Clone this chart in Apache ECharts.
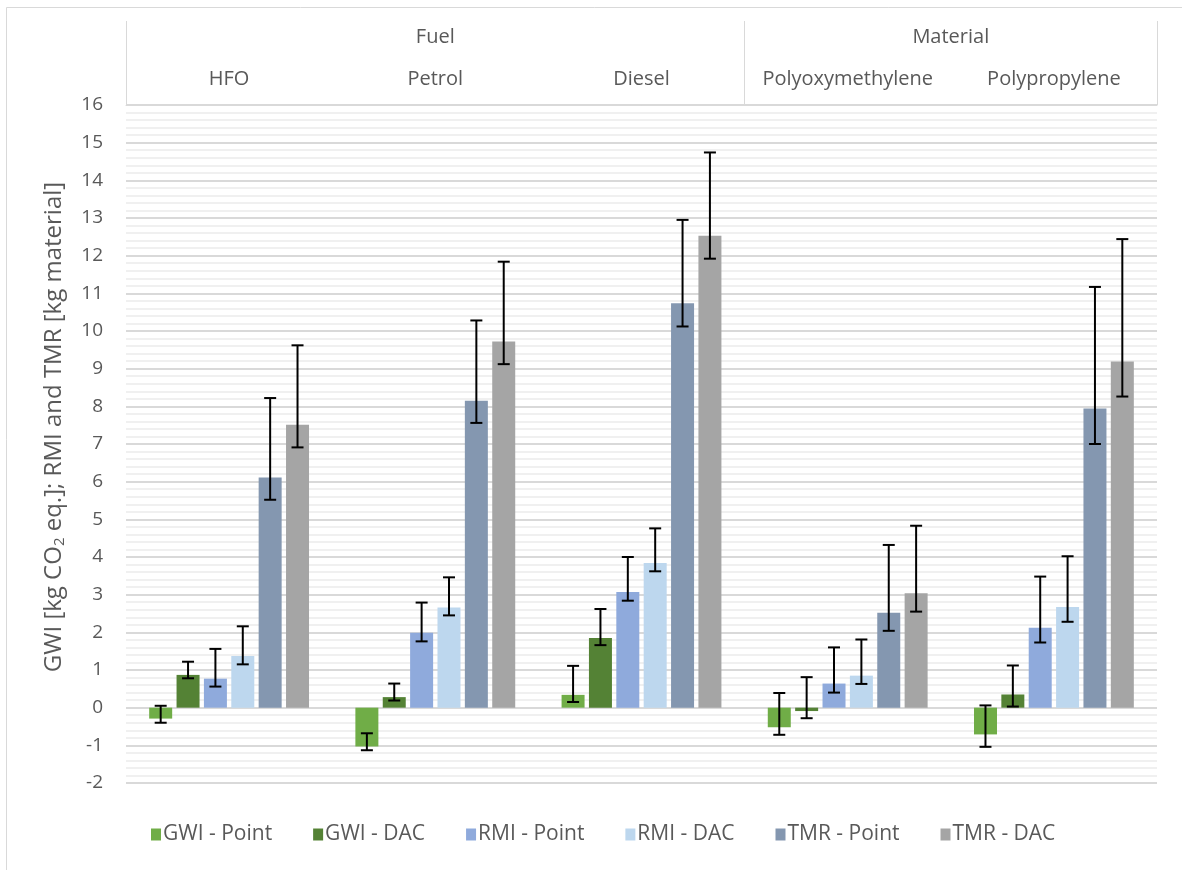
<!DOCTYPE html>
<html>
<head>
<meta charset="utf-8">
<script src="https://cdn.jsdelivr.net/npm/echarts@6/dist/echarts.min.js"></script>
<style>
html,body{margin:0;padding:0;background:#fff;}
#chart{width:1182px;height:870px;}
</style>
</head>
<body>
<div id="chart"></div>
<script>
// ---- DATA ----
const categories = ['HFO', 'Petrol', 'Diesel', 'Polyoxymethylene', 'Polypropylene'];
const groupNames = ['Fuel', 'Material'];
const groupSpans = [3, 2]; // number of categories in each group
const seriesNames = ['GWI - Point', 'GWI - DAC', 'RMI - Point', 'RMI - DAC', 'TMR - Point', 'TMR - DAC'];
const seriesColors = ['#70AD47', '#548235', '#8FAADC', '#BDD7EE', '#8497B0', '#A5A5A5'];

const gwiPoint = [-0.29, -1.03, 0.34, -0.52, -0.71];
const gwiDac   = [0.87, 0.28, 1.85, -0.09, 0.35];
const rmiPoint = [0.77, 1.99, 3.07, 0.64, 2.12];
const rmiDac   = [1.37, 2.66, 3.84, 0.85, 2.67];
const tmrPoint = [6.11, 8.15, 10.74, 2.52, 7.94];
const tmrDac   = [7.51, 9.72, 12.53, 3.04, 9.19];

// error bar ends (low, high)
const gwiPointLow  = [-0.40, -1.13, 0.15, -0.72, -1.04];
const gwiPointHigh = [0.05, -0.68, 1.11, 0.39, 0.06];
const gwiDacLow    = [0.78, 0.19, 1.66, -0.28, 0.03];
const gwiDacHigh   = [1.22, 0.64, 2.62, 0.81, 1.12];
const rmiPointLow  = [0.56, 1.76, 2.84, 0.40, 1.73];
const rmiPointHigh = [1.56, 2.79, 4.00, 1.60, 3.48];
const rmiDacLow    = [1.15, 2.45, 3.62, 0.63, 2.28];
const rmiDacHigh   = [2.16, 3.46, 4.76, 1.81, 4.02];
const tmrPointLow  = [5.52, 7.56, 10.12, 2.04, 7.00];
const tmrPointHigh = [8.22, 10.28, 12.95, 4.32, 11.17];
const tmrDacLow    = [6.91, 9.12, 11.92, 2.55, 8.26];
const tmrDacHigh   = [9.62, 11.84, 14.74, 4.83, 12.44];

const yMin = -2, yMax = 16, yInterval = 1;
const yAxisTitle = ['GWI [kg CO', '2', ' eq.]; RMI and TMR [kg material]'];

// ---- BUILD ----
const values = [gwiPoint, gwiDac, rmiPoint, rmiDac, tmrPoint, tmrDac];
const lows = [gwiPointLow, gwiDacLow, rmiPointLow, rmiDacLow, tmrPointLow, tmrDacLow];
const highs = [gwiPointHigh, gwiDacHigh, rmiPointHigh, rmiDacHigh, tmrPointHigh, tmrDacHigh];

const BAR_W = 23;
const GAP_RATIO = 0.19;
const STEP = BAR_W * (1 + GAP_RATIO);
const nSeries = seriesNames.length;

const font = 'Open Sans';
const textColor = '#595959';

const groupCenters = [];
const groupEdges = [0];
let acc = 0;
groupSpans.forEach(s => { groupCenters.push(acc + s / 2); acc += s; groupEdges.push(acc); });

const series = [];
seriesNames.forEach((name, i) => {
  series.push({
    name: name,
    type: 'bar',
    xAxisIndex: 0,
    yAxisIndex: 0,
    barWidth: BAR_W,
    barGap: (GAP_RATIO * 100) + '%',
    itemStyle: { color: seriesColors[i] },
    data: values[i],
    z: 2
  });
});
seriesNames.forEach((name, i) => {
  series.push({
    type: 'custom',
    name: name + ' err',
    xAxisIndex: 0,
    yAxisIndex: 0,
    z: 5,
    silent: true,
    data: categories.map((c, k) => [k, lows[i][k], highs[i][k]]),
    renderItem: function (params, api) {
      const k = api.value(0);
      const pLow = api.coord([k, api.value(1)]);
      const pHigh = api.coord([k, api.value(2)]);
      const x = pLow[0] + (i - (nSeries - 1) / 2) * STEP;
      const cap = 6;
      const style = { stroke: '#000', lineWidth: 2 };
      return {
        type: 'group',
        children: [
          { type: 'line', shape: { x1: x, y1: pLow[1], x2: x, y2: pHigh[1] }, style: style },
          { type: 'line', shape: { x1: x - cap, y1: pLow[1], x2: x + cap, y2: pLow[1] }, style: style },
          { type: 'line', shape: { x1: x - cap, y1: pHigh[1], x2: x + cap, y2: pHigh[1] }, style: style }
        ]
      };
    }
  });
});

const chart = echarts.init(document.getElementById('chart'), null, { renderer: 'canvas' });
chart.setOption({
  backgroundColor: '#fff',
  animation: false,
  textStyle: { fontFamily: font },
  graphic: [
    {
      type: 'rect',
      shape: { x: 6.5, y: 7.5, width: 1200, height: 900 },
      style: { fill: 'none', stroke: '#d9d9d9', lineWidth: 1 },
      silent: true, z: -10
    },
    {
      type: 'text',
      x: 54, y: 427,
      rotation: Math.PI / 2,
      style: {
        text: '{a|' + yAxisTitle[0] + '}{s|' + yAxisTitle[1] + '}{a|' + yAxisTitle[2] + '}',
        align: 'center',
        verticalAlign: 'middle',
        rich: {
          a: { fontFamily: font, fontSize: 24, fill: textColor },
          s: { fontFamily: font, fontSize: 15, fill: textColor, padding: [11, 0, 0, 0] }
        }
      },
      silent: true
    }
  ],
  grid: { left: 126, right: 25, top: 105, bottom: 87, containLabel: false },
  legend: {
    data: seriesNames,
    bottom: 20,
    left: 146,
    icon: 'rect',
    itemWidth: 10,
    itemHeight: 12,
    itemGap: 41,
    textStyle: { fontFamily: font, fontSize: 21, color: textColor, padding: [0, 0, 0, -3] }
  },
  xAxis: [
    {
      type: 'category',
      data: categories,
      position: 'top',
      axisLine: { show: false },
      axisTick: { show: false },
      axisLabel: { show: true, interval: 0, hideOverlap: false, margin: 16, fontFamily: font, fontSize: 20, color: textColor },
      splitLine: { show: false }
    },
    {
      type: 'value',
      min: 0,
      max: categories.length,
      position: 'top',
      axisLine: { show: true, lineStyle: { color: '#d9d9d9', width: 1 } },
      axisTick: {
        show: true, inside: false, length: 84,
        customValues: groupEdges,
        lineStyle: { color: '#d9d9d9', width: 1 }
      },
      axisLabel: {
        show: true, margin: 58,
        customValues: groupCenters,
        formatter: function (v) {
          const idx = groupCenters.findIndex(c => Math.abs(c - v) < 1e-6);
          return idx >= 0 ? groupNames[idx] : '';
        },
        fontFamily: font, fontSize: 20, color: textColor
      },
      splitLine: { show: false }
    }
  ],
  yAxis: {
    type: 'value',
    min: yMin,
    max: yMax,
    interval: yInterval,
    axisLine: { show: false },
    axisTick: { show: false },
    axisLabel: { margin: 23, fontFamily: font, fontSize: 19, color: textColor },
    splitLine: { show: true, lineStyle: { color: '#d9d9d9', width: 2 } },
    minorTick: { show: false, splitNumber: 5 },
    minorSplitLine: { show: true, lineStyle: { color: '#f0f0f0', width: 2 } }
  },
  series: series
});
</script>
</body>
</html>
